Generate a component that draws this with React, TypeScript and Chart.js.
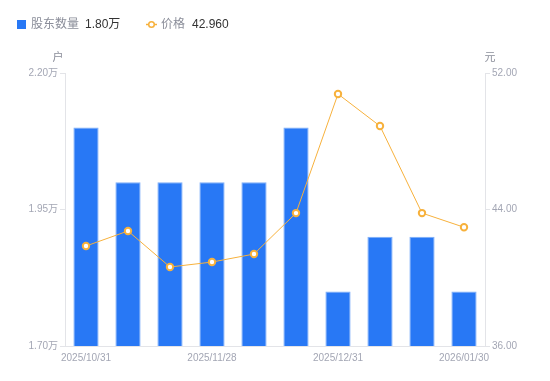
import React, { useEffect, useRef } from "react";
import { Chart, registerables } from "chart.js";

Chart.register(...registerables);

const categories = [
  "2025/10/31", "2025/11/10", "2025/11/20", "2025/11/28", "2025/12/10",
  "2025/12/19", "2025/12/31", "2026/01/09", "2026/01/20", "2026/01/30",
];
const shownLabels = ["2025/10/31", "2025/11/28", "2025/12/31", "2026/01/30"];
const holders = [2.10, 2.00, 2.00, 2.00, 2.00, 2.10, 1.80, 1.90, 1.90, 1.80];
const prices = [41.86, 42.74, 40.63, 40.92, 41.39, 43.79, 50.77, 48.89, 43.79, 42.96];
const leftTicks = [1.7, 1.95, 2.2];
const rightTicks = [36, 44, 52];

const FONT = "'Liberation Sans', 'Noto Sans CJK SC', sans-serif";
const BLUE = "#2878f5";
const ORANGE = "#f7b13c";
const GRAY = "#a3a6b4";

const legendPlugin = {
  id: "customLegend",
  afterDraw(chart: any) {
    const ctx = chart.ctx;
    ctx.save();
    ctx.textBaseline = "middle";
    ctx.font = `12px ${FONT}`;
    const y = 25;
    // item 1
    ctx.fillStyle = BLUE;
    ctx.fillRect(17, 20, 9, 9);
    ctx.fillStyle = "#8a8d99";
    ctx.textAlign = "left";
    ctx.fillText("股东数量", 31, y);
    ctx.fillStyle = "#333";
    ctx.fillText(holders[holders.length - 1].toFixed(2) + "万", 85, y);
    // item 2
    ctx.strokeStyle = ORANGE;
    ctx.lineWidth = 1.5;
    ctx.beginPath();
    ctx.moveTo(146, y - 0.5);
    ctx.lineTo(157, y - 0.5);
    ctx.stroke();
    ctx.beginPath();
    ctx.arc(151.5, y - 0.5, 2.8, 0, Math.PI * 2);
    ctx.fillStyle = "#fff";
    ctx.fill();
    ctx.stroke();
    ctx.fillStyle = "#8a8d99";
    ctx.fillText("价格", 161, y);
    ctx.fillStyle = "#333";
    ctx.fillText(prices[prices.length - 1].toFixed(3), 192, y);
    // axis titles
    ctx.font = `11px ${FONT}`;
    ctx.fillStyle = "#8a8d99";
    ctx.textAlign = "center";
    ctx.fillText("户", chart.chartArea.left - 7, 58);
    ctx.fillText("元", chart.chartArea.right + 5, 58);
    ctx.restore();
  },
};

export default function App() {
  const ref = useRef<HTMLCanvasElement>(null);
  useEffect(() => {
    const chart = new Chart(ref.current!, {
      type: "bar",
      data: {
        labels: categories,
        datasets: [
          {
            type: "line",
            label: "价格",
            data: prices,
            yAxisID: "y1",
            borderColor: ORANGE,
            borderWidth: 1,
            pointRadius: 3.2,
            pointBorderWidth: 2,
            pointBackgroundColor: "#fff",
            pointBorderColor: ORANGE,
            tension: 0,
            order: 0,
          } as any,
          {
            type: "bar",
            label: "股东数量",
            data: holders,
            yAxisID: "y",
            backgroundColor: BLUE,
            borderColor: "#7eaef8",
            borderWidth: 1,
            categoryPercentage: 1,
            barPercentage: 0.6,
            order: 1,
          },
        ],
      },
      options: {
        animation: false,
        responsive: false,
        maintainAspectRatio: false,
        layout: { padding: { top: 73, left: 0, right: 0, bottom: 0 } },
        plugins: { legend: { display: false }, tooltip: { enabled: false } },
        scales: {
          x: {
            type: "category",
            offset: true,
            grid: { display: false, drawTicks: false },
            border: { display: true, color: "#e3e4e8", width: 1 },
            ticks: {
              autoSkip: false,
              maxRotation: 0,
              padding: 6,
              color: GRAY,
              font: { size: 10, family: FONT },
              callback: (_v: any, i: number) =>
                shownLabels.includes(categories[i]) ? categories[i] : "",
            },
            afterFit: (s: any) => {
              s.height = 35;
            },
          },
          y: {
            position: "left",
            min: 1.7,
            max: 2.2,
            afterBuildTicks: (s: any) => {
              s.ticks = leftTicks.map((v) => ({ value: v }));
            },
            grid: { drawOnChartArea: false, drawTicks: true, tickLength: 5, color: "#e3e4e8" },
            border: { display: true, color: "#e3e4e8", width: 1 },
            ticks: {
              padding: 2,
              color: GRAY,
              font: { size: 10, family: FONT },
              callback: (v: any) => Number(v).toFixed(2) + "万",
            },
            afterFit: (s: any) => {
              s.width = 65;
            },
          },
          y1: {
            position: "right",
            min: 36,
            max: 52,
            afterBuildTicks: (s: any) => {
              s.ticks = rightTicks.map((v) => ({ value: v }));
            },
            grid: { drawOnChartArea: false, drawTicks: true, tickLength: 5, color: "#e3e4e8" },
            border: { display: true, color: "#e3e4e8", width: 1 },
            ticks: {
              padding: 2,
              color: GRAY,
              font: { size: 10, family: FONT },
              callback: (v: any) => Number(v).toFixed(2),
            },
            afterFit: (s: any) => {
              s.width = 65;
            },
          },
        },
      } as any,
      plugins: [legendPlugin],
    });
    return () => chart.destroy();
  }, []);
  return (
    <div style={{ position: "fixed", left: 0, top: 0, width: 550, height: 381, background: "#fff" }}>
      <canvas ref={ref} width={550} height={381} style={{ display: "block", width: 550, height: 381 }} />
    </div>
  );
}
